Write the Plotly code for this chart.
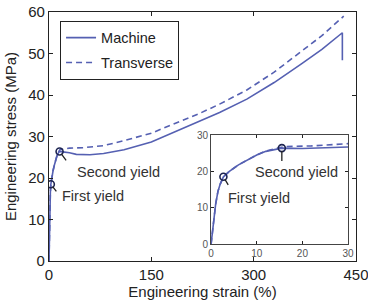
import plotly.graph_objects as go

# Engineering strain (%) and stress (MPa)
machine_strain = [0, 0.5, 1, 1.5, 2, 2.7, 4, 6, 8, 10, 12, 14, 15.5, 20, 25, 30, 40, 60, 80,
                  110, 150, 190, 220, 250, 290, 330, 370, 400, 430, 430]
machine_stress = [0, 6, 11, 14.5, 16.5, 18.5, 20, 21.8, 23.2, 24.5, 25.5, 26.1, 26.4, 26.3, 26.2,
                  26.1, 25.7, 25.6, 25.9, 26.8, 28.7, 31.5, 33.6, 35.8, 39, 43, 47.5, 51, 55, 48.4]
transverse_strain = [0, 0.5, 1, 1.5, 2, 2.7, 4, 6, 8, 10, 12, 14, 16, 22, 30, 50, 80, 110, 150,
                     190, 220, 250, 290, 330, 370, 400, 432]
transverse_stress = [0, 6, 11, 14.5, 16.5, 18.5, 20, 21.8, 23.2, 24.5, 25.6, 26.3, 26.8, 27, 27.2,
                     27.3, 27.8, 29, 30.8, 33.5, 35.5, 37.8, 41.2, 45.5, 50.5, 54.3, 59.0]
yield_labels = ["First yield", "Second yield"]
yield_strain = [2.7, 15.5]
yield_stress = [18.5, 26.4]

main_xticks = [0, 150, 300, 450]
main_yticks = [0, 10, 20, 30, 40, 50, 60]
inset_ticks = [0, 10, 20, 30]

LINE = "#5560b2"
FONT = "Liberation Sans, Arial, sans-serif"

fig = go.Figure()
for xa, ya, show in [("x", "y", True), ("x2", "y2", False)]:
    fig.add_trace(go.Scatter(x=machine_strain, y=machine_stress, mode="lines", name="Machine",
                             legendgroup="m", line=dict(color=LINE, width=1.6),
                             xaxis=xa, yaxis=ya, showlegend=show))
    fig.add_trace(go.Scatter(x=transverse_strain, y=transverse_stress, mode="lines", name="Transverse",
                             legendgroup="t", line=dict(color=LINE, width=1.6, dash="6px,4px"),
                             xaxis=xa, yaxis=ya, showlegend=show))
    fig.add_trace(go.Scatter(x=yield_strain, y=yield_stress, mode="markers", showlegend=False,
                             marker=dict(symbol="circle-open", size=7, color="#1d2450",
                                         line=dict(width=1.6)), xaxis=xa, yaxis=ya))

axis_common = dict(showline=True, mirror="allticks", linecolor="#222", linewidth=1.3,
                   ticks="inside", ticklen=4, tickcolor="#222", showgrid=False, zeroline=False,
                   automargin=False, ticklabeloverflow="allow")
inset_axis = {**axis_common, "linecolor": "#444", "linewidth": 1.1, "ticklen": 3}

fig.update_layout(
    width=368, height=304,
    margin=dict(l=49, r=12, t=12, b=43),
    paper_bgcolor="white", plot_bgcolor="white",
    font=dict(family=FONT, color="#222", size=14),
    xaxis=dict(range=[0, 450], tickvals=main_xticks, tickfont=dict(size=15),
               title=dict(text="Engineering strain (%)", font=dict(size=15), standoff=0),
               **axis_common),
    yaxis=dict(range=[0, 60], tickvals=main_yticks, tickfont=dict(size=15),
               title=dict(text="Engineering stress (MPa)", font=dict(size=15), standoff=7),
               **axis_common),
    xaxis2=dict(domain=[0.528, 0.974], anchor="y2", range=[0, 30], tickvals=inset_ticks,
                tickfont=dict(size=10, color="#555"), **inset_axis),
    yaxis2=dict(domain=[0.068, 0.506], anchor="x2", range=[0, 30], tickvals=inset_ticks,
                tickfont=dict(size=10, color="#555"), **inset_axis),
    legend=dict(x=0.036, y=0.965, xanchor="left", yanchor="top", bgcolor="white",
                bordercolor="#222", borderwidth=1, font=dict(size=14.5), tracegroupgap=3,
                itemwidth=30),
)

# leader lines and labels (leaders given as pixel offsets)
main_leaders = [(7, 9), (8, 11)]
main_text_pos = [(16, 15.7), (38, 21.4)]
inset_leaders = [(6, 10), (0, 15)]
inset_text_pos = [(3.3, 12.7), (9.2, 19.8)]
for (xr, yr, leaders, tpos) in [("x", "y", main_leaders, main_text_pos),
                                ("x2", "y2", inset_leaders, inset_text_pos)]:
    for i in range(2):
        fig.add_annotation(x=yield_strain[i], y=yield_stress[i], xref=xr, yref=yr,
                           text=" ", font=dict(size=1), showarrow=True, arrowhead=0,
                           arrowwidth=1.3, arrowcolor="#222", ax=leaders[i][0], ay=leaders[i][1],
                           standoff=3)
        fig.add_annotation(x=tpos[i][0], y=tpos[i][1], xref=xr, yref=yr, text=yield_labels[i],
                           showarrow=False, xanchor="left", yanchor="middle",
                           font=dict(size=14.5, color="#333"))

fig.write_html("out.html", config={"displayModeBar": False},
               post_script="document.body.style.margin='0px';document.body.style.overflow='hidden';")
